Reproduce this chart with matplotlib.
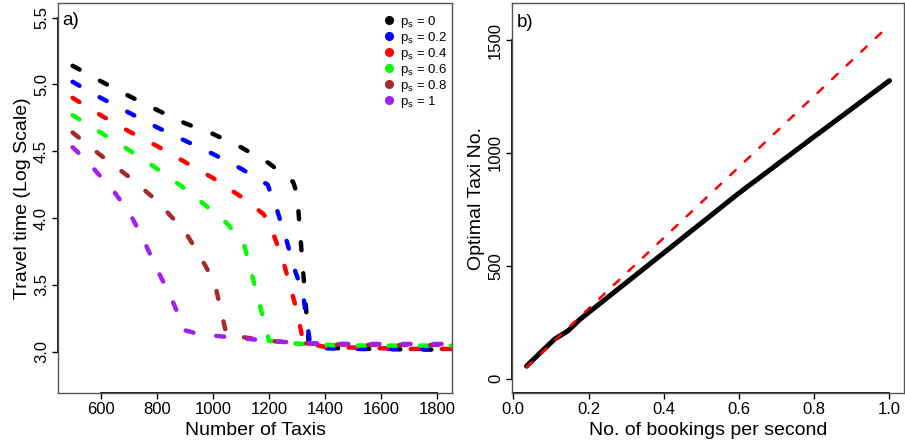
import matplotlib
matplotlib.use('Agg')
import matplotlib.pyplot as plt
from matplotlib.lines import Line2D

plt.rcParams['font.family'] = ['Liberation Sans', 'DejaVu Sans']
plt.rcParams['mathtext.fontset'] = 'custom'
plt.rcParams['mathtext.rm'] = 'Liberation Sans'
plt.rcParams['mathtext.it'] = 'Liberation Sans'

# panel a: travel time (log) vs number of taxis, one curve per p_s
PS_LABELS = ['0', '0.2', '0.4', '0.6', '0.8', '1']
PS_COLORS = ['black', '#0000FF', '#FF0000', '#00FF00', '#A52A2A', '#A020F0']

TAIL_X = [1400, 1500, 1600, 1700, 1800, 1900]

ps0_x = [500, 600, 700, 800, 900, 1000, 1100, 1200, 1286, 1300, 1342] + TAIL_X
ps0_y = [5.14, 5.025, 4.915, 4.81, 4.71, 4.63, 4.53, 4.41, 4.27, 4.18, 3.05,
         3.03, 3.02, 3.02, 3.015, 3.015, 3.015]

ps02_x = [500, 600, 700, 800, 900, 1000, 1100, 1195, 1230, 1260, 1295, 1320,
          1333, 1348] + TAIL_X
ps02_y = [5.02, 4.90, 4.79, 4.68, 4.58, 4.48, 4.37, 4.25, 4.05, 3.85, 3.59,
          3.45, 3.25, 3.04, 3.025, 3.02, 3.02, 3.02, 3.02, 3.02]

ps04_x = [500, 600, 700, 800, 900, 1000, 1100, 1180, 1200, 1250, 1300,
          1322] + TAIL_X
ps04_y = [4.90, 4.77, 4.65, 4.54, 4.42, 4.30, 4.16, 4.03, 3.97, 3.68, 3.30,
          3.07, 3.035, 3.03, 3.025, 3.02, 3.02, 3.02]

ps06_x = [500, 600, 700, 800, 900, 1000, 1050, 1110, 1200, 1300] + TAIL_X
ps06_y = [4.77, 4.64, 4.51, 4.37, 4.22, 4.05, 3.96, 3.81, 3.08, 3.06,
          3.05, 3.045, 3.045, 3.045, 3.045, 3.045]

ps08_x = [500, 600, 700, 800, 900, 950, 1000, 1010, 1048, 1100, 1200,
          1300] + TAIL_X
ps08_y = [4.64, 4.47, 4.31, 4.13, 3.90, 3.73, 3.54, 3.48, 3.13, 3.11, 3.08,
          3.065, 3.055, 3.05, 3.05, 3.05, 3.05, 3.05]

ps1_x = [500, 550, 600, 650, 700, 750, 800, 850, 900, 950, 1000, 1100, 1200,
         1300] + TAIL_X
ps1_y = [4.53, 4.43, 4.31, 4.19, 4.05, 3.85, 3.62, 3.41, 3.16, 3.13, 3.12,
         3.10, 3.08, 3.065, 3.06, 3.057, 3.057, 3.057, 3.057, 3.057]

SERIES_X = [ps0_x, ps02_x, ps04_x, ps06_x, ps08_x, ps1_x]
SERIES_Y = [ps0_y, ps02_y, ps04_y, ps06_y, ps08_y, ps1_y]

# panel b: optimal taxi number vs bookings per second
opt_x = [0.035, 0.07, 0.11, 0.145, 0.177, 0.4, 0.6, 0.8, 1.0]
opt_y = [55, 112, 175, 211, 262, 557, 822, 1072, 1320]
fit_x = [0.035, 0.98]
fit_y = [50, 1535]

A_XTICKS = [600, 800, 1000, 1200, 1400, 1600, 1800]
A_YTICKS = [3.0, 3.5, 4.0, 4.5, 5.0, 5.5]
B_XTICKS = [0.0, 0.2, 0.4, 0.6, 0.8, 1.0]
B_YTICKS = [0, 500, 1000, 1500]


def style_axes(ax, xticks, yticks, xfmt, yfmt):
    for s in ax.spines.values():
        s.set_color('#555555')
        s.set_linewidth(1.0)
    ax.set_xticks(xticks)
    ax.set_yticks(yticks)
    ax.set_xticklabels([xfmt.format(t) for t in xticks])
    ax.set_yticklabels([yfmt.format(t) for t in yticks])
    ax.tick_params(length=4, width=1, labelsize=12, pad=2.5)
    ax.tick_params(axis='y', labelrotation=90)
    for lab in ax.get_yticklabels():
        lab.set_va('center')
    # R style axis lines from first to last tick
    ax.plot([xticks[0], xticks[-1]], [0, 0], color='black', lw=1.3,
            transform=ax.get_xaxis_transform(), clip_on=False)
    ax.plot([0, 0], [yticks[0], yticks[-1]], color='black', lw=1.3,
            transform=ax.get_yaxis_transform(), clip_on=False)


fig = plt.figure(figsize=(9.05, 4.44), dpi=100)
ax1 = fig.add_axes([58 / 905, 51 / 444, 394 / 905, 390 / 444])
ax2 = fig.add_axes([512 / 905, 51 / 444, 392 / 905, 390 / 444])

for xs, ys, col in zip(SERIES_X, SERIES_Y, PS_COLORS):
    ax1.plot(xs, ys, color=col, lw=3.2, dashes=(1.8, 5.2),
             dash_capstyle='round', solid_capstyle='round')

ax1.set_xlim(448, 1852)
ax1.set_ylim(2.69, 5.61)
style_axes(ax1, A_XTICKS, A_YTICKS, '{:d}', '{:.1f}')
ax1.set_xlabel('Number of Taxis', fontsize=14, labelpad=3.5)
ax1.set_ylabel('Travel time (Log Scale)', fontsize=14, labelpad=2)
ax1.text(0.012, 0.978, 'a)', transform=ax1.transAxes, fontsize=13.5,
         ha='left', va='top')

handles = [Line2D([], [], marker='o', ls='none', color=c, markersize=5.5)
           for c in PS_COLORS]
labels = [r'p$_\mathregular{s}$ = ' + p for p in PS_LABELS]
ax1.legend(handles, labels, loc='upper right', frameon=False, fontsize=9.5,
           handlelength=0.6, handletextpad=0.55, labelspacing=0.0,
           borderaxespad=0.0, borderpad=0.3, bbox_to_anchor=(1.0, 0.982))

ax2.plot(opt_x, opt_y, color='black', lw=3.6, solid_capstyle='round')
ax2.plot(fit_x, fit_y, color='#FF0000', lw=1.8, dashes=(3, 5),
         dash_capstyle='round')
ax2.set_xlim(-0.0036, 1.0386)
ax2.set_ylim(-64, 1664)
style_axes(ax2, B_XTICKS, B_YTICKS, '{:.1f}', '{:d}')
ax2.set_xlabel('No. of bookings per second', fontsize=14, labelpad=3.5)
ax2.set_ylabel('Optimal Taxi No.', fontsize=14, labelpad=2)
ax2.text(0.012, 0.972, 'b)', transform=ax2.transAxes, fontsize=13.5,
         ha='left', va='top')

fig.savefig('out.png', dpi=100)
